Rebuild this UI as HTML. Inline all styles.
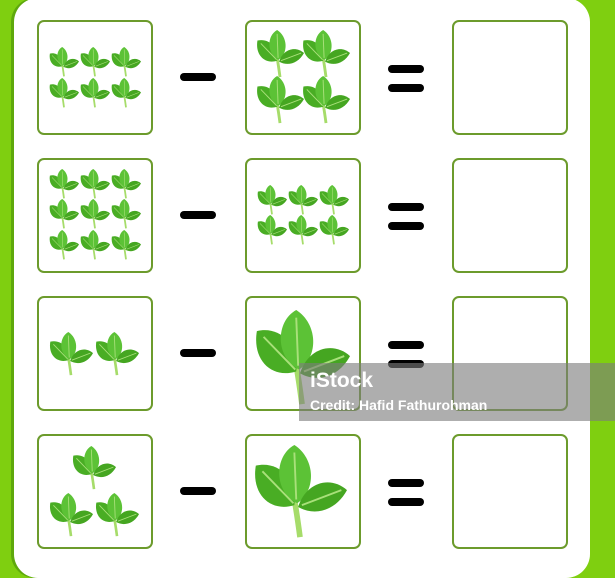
<!DOCTYPE html>
<html><head><meta charset="utf-8"><style>
html,body{margin:0;padding:0}
body{width:615px;height:561px;overflow:hidden;background:#7fcf10;position:relative;font-family:"Liberation Sans",sans-serif}
.panel{position:absolute;left:14px;top:-2px;width:576px;height:580px;background:#fff;border-radius:24px;box-shadow:-3px 0 0 #5ea80c}
.box{position:absolute;width:116px;height:115px;border:2px solid #6c9b2c;border-radius:7px;background:#fff;box-sizing:border-box}
.minus{position:absolute;width:36px;height:8px;background:#000;border-radius:4px}
.wm{position:absolute;left:299px;top:363px;width:316px;height:58px;background:rgba(125,125,125,0.62)}
.wm .t1{position:absolute;left:11px;top:6px;color:#fff;font-weight:bold;font-size:21px}
.wm .t2{position:absolute;left:11px;top:34px;color:#fff;font-weight:bold;font-size:14px}
svg.l{position:absolute}
</style></head><body>
<svg width="0" height="0" style="position:absolute">
<defs>
<symbol id="leaf" viewBox="0 0 100 100">
<path d="M50 98 Q47 75 44 58" stroke="#a6dc6a" stroke-width="6" fill="none"/>
<path d="M44 64 C18 72 -2 52 3 22 C28 16 48 38 44 64Z" fill="#49ad24"/>
<path d="M47 62 C22 50 22 12 44 0 C66 14 68 48 47 62Z" fill="#5cc236"/>
<path d="M48 66 C56 40 82 32 100 48 C88 70 66 76 48 66Z" fill="#45a621"/>
<path d="M46 58 L44 8 M43 62 L10 28 M52 64 L94 48" stroke="#a9e07a" stroke-width="2" fill="none"/>
</symbol>
</defs></svg>
<div class="panel"></div>

<div class="box" style="left:37px;top:20px"></div>
<div class="box" style="left:245px;top:20px"></div>
<div class="box" style="left:452px;top:20px"></div>
<div class="box" style="left:37px;top:158px"></div>
<div class="box" style="left:245px;top:158px"></div>
<div class="box" style="left:452px;top:158px"></div>
<div class="box" style="left:37px;top:296px"></div>
<div class="box" style="left:245px;top:296px"></div>
<div class="box" style="left:452px;top:296px"></div>
<div class="box" style="left:37px;top:434px"></div>
<div class="box" style="left:245px;top:434px"></div>
<div class="box" style="left:452px;top:434px"></div>

<div class="minus" style="left:180px;top:73px"></div>
<div class="minus" style="left:180px;top:211px"></div>
<div class="minus" style="left:180px;top:349px"></div>
<div class="minus" style="left:180px;top:487px"></div>
<div class="minus" style="left:388px;top:65px"></div>
<div class="minus" style="left:388px;top:84px"></div>
<div class="minus" style="left:388px;top:203px"></div>
<div class="minus" style="left:388px;top:222px"></div>
<div class="minus" style="left:388px;top:341px"></div>
<div class="minus" style="left:388px;top:360px"></div>
<div class="minus" style="left:388px;top:479px"></div>
<div class="minus" style="left:388px;top:498px"></div>

<div id="leaves"></div>
<div class="wm"><div class="t1">iStock</div><div class="t2">Credit: Hafid Fathurohman</div></div>
<script>
const leafCx=[64,95,126,64,95,126, 280,326,280,326, 64,95,126,64,95,126,64,95,126, 272,303,334,272,303,334, 71,117, 302, 94,71,117, 300];
const leafCy=[62,62,62,93,93,93, 54,54,100,100, 184,184,184,214,214,214,245,245,245, 200,200,200,230,230,230, 354,354, 358, 468,515,515, 492];
const leafSz=[30,30,30,30,30,30, 48,48,48,48, 30,30,30,30,30,30,30,30,30, 30,30,30,30,30,30, 44,44, 96, 44,44,44, 94];
const host=document.getElementById('leaves');
for(let i=0;i<leafCx.length;i++){
  const s=document.createElementNS('http://www.w3.org/2000/svg','svg');
  s.setAttribute('class','l');
  
  
  const z=leafSz[i];
  s.setAttribute('width',z);s.setAttribute('height',z);
  s.style.left=(leafCx[i]-z/2)+'px';s.style.top=(leafCy[i]-z/2)+'px';
  const u=document.createElementNS('http://www.w3.org/2000/svg','use');
  u.setAttribute('href','#leaf');u.setAttribute('width',z);u.setAttribute('height',z);
  s.appendChild(u);host.appendChild(s);
}
</script>
</body></html>
